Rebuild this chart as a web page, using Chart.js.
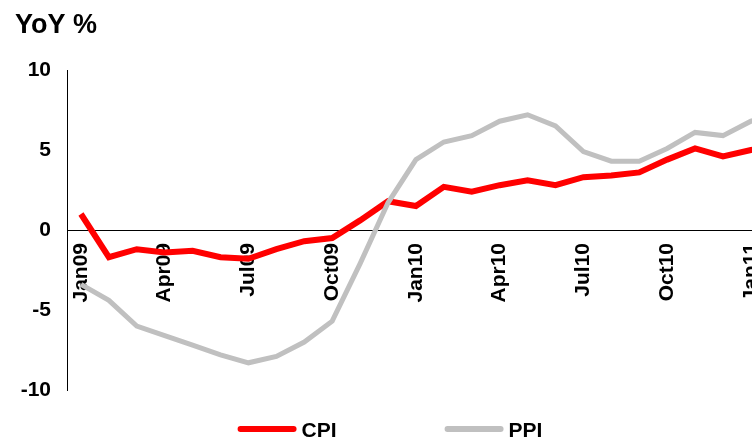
<!DOCTYPE html>
<html>
<head>
<meta charset="utf-8">
<script src="https://cdn.jsdelivr.net/npm/chart.js@4"></script>
<style>
  body { margin: 0; background: #fff; overflow: hidden; }
  #wrap { width: 817px; height: 438px; }
</style>
</head>
<body>
<div id="wrap"><canvas id="lineChart" width="817" height="438"></canvas></div>
<script>
// データ
var months = ['Jan09', 'Feb09', 'Mar09', 'Apr09', 'May09', 'Jun09', 'Jul09', 'Aug09', 'Sep09', 'Oct09', 'Nov09', 'Dec09',
              'Jan10', 'Feb10', 'Mar10', 'Apr10', 'May10', 'Jun10', 'Jul10', 'Aug10', 'Sep10', 'Oct10', 'Nov10', 'Dec10',
              'Jan11', 'Feb11'];
var cpi = [1.0, -1.7, -1.2, -1.4, -1.3, -1.7, -1.8, -1.2, -0.7, -0.5, 0.6, 1.8,
           1.5, 2.7, 2.4, 2.8, 3.1, 2.8, 3.3, 3.4, 3.6, 4.4, 5.1, 4.6,
           5.0, 5.2];
var ppi = [-3.4, -4.4, -6.0, -6.6, -7.2, -7.8, -8.3, -7.9, -7.0, -5.7, -2.1, 1.7,
           4.4, 5.5, 5.9, 6.8, 7.2, 6.5, 4.9, 4.3, 4.3, 5.1, 6.1, 5.9,
           6.8, 7.2];
var yTicks = [-10, -5, 0, 5, 10];
var titleText = 'YoY %';

var fontFamily = '"Liberation Sans", Arial, sans-serif';
var boldFont = 'bold 21px ' + fontFamily;

// タイトルと凡例
var extrasPlugin = {
    id: 'extras',
    afterDraw: function(chart) {
        var ctx = chart.ctx;
        ctx.save();
        ctx.fillStyle = '#000';
        ctx.font = 'bold 27px ' + fontFamily;
        ctx.textAlign = 'left';
        ctx.textBaseline = 'alphabetic';
        ctx.fillText(titleText, 15, 33);

        ctx.font = boldFont;
        ctx.textBaseline = 'middle';
        var lineLen = 59, gap = 5, spacing = 108, y = 429;
        var sets = chart.data.datasets;
        var total = 0;
        sets.forEach(function(ds, i) {
            total += lineLen + gap + ctx.measureText(ds.label).width;
            if (i > 0) total += spacing;
        });
        var x = 390 - total / 2;
        sets.forEach(function(ds) {
            ctx.strokeStyle = ds.borderColor;
            ctx.lineWidth = 6;
            ctx.lineCap = 'round';
            ctx.beginPath();
            ctx.moveTo(x + 3, y);
            ctx.lineTo(x + lineLen - 3, y);
            ctx.stroke();
            x += lineLen + gap;
            ctx.fillText(ds.label, x, y + 2);
            x += ctx.measureText(ds.label).width + spacing;
        });
        ctx.restore();
    }
};

var lineConfig = {
    type: 'line',
    data: {
        labels: months,
        datasets: [{
            label: 'CPI',
            data: cpi,
            borderColor: 'rgb(255, 0, 0)',
            backgroundColor: 'rgb(255, 0, 0)',
            borderWidth: 6,
            pointRadius: 0,
            tension: 0,
            order: 2
        }, {
            label: 'PPI',
            data: ppi,
            borderColor: 'rgb(192, 192, 192)',
            backgroundColor: 'rgb(192, 192, 192)',
            borderWidth: 5,
            pointRadius: 0,
            tension: 0,
            order: 1
        }]
    },
    options: {
        responsive: false,
        animation: false,
        layout: { padding: { top: 70, bottom: 48, left: 0, right: 0 } },
        plugins: {
            legend: { display: false },
            tooltip: { enabled: false }
        },
        scales: {
            x: {
                position: { y: 0 },
                offset: true,
                grid: { display: false, drawTicks: false },
                border: { display: true, color: '#000', width: 1 },
                ticks: {
                    autoSkip: false,
                    minRotation: 90,
                    maxRotation: 90,
                    padding: 13,
                    color: '#000',
                    font: { family: fontFamily, size: 21, weight: 'bold' },
                    callback: function(value, index) {
                        return index % 3 === 0 ? months[index] : '';
                    }
                }
            },
            y: {
                min: -10,
                max: 10,
                afterFit: function(scale) { scale.width = 67; },
                afterBuildTicks: function(scale) {
                    scale.ticks = yTicks.map(function(v) { return { value: v }; });
                },
                grid: { display: false, drawTicks: false },
                border: { display: true, color: '#000', width: 1 },
                ticks: {
                    padding: 16,
                    color: '#000',
                    font: { family: fontFamily, size: 21, weight: 'bold' }
                }
            }
        }
    },
    plugins: [extrasPlugin]
};

var lineChart = new Chart(
    document.getElementById('lineChart'),
    lineConfig
);
</script>
</body>
</html>
